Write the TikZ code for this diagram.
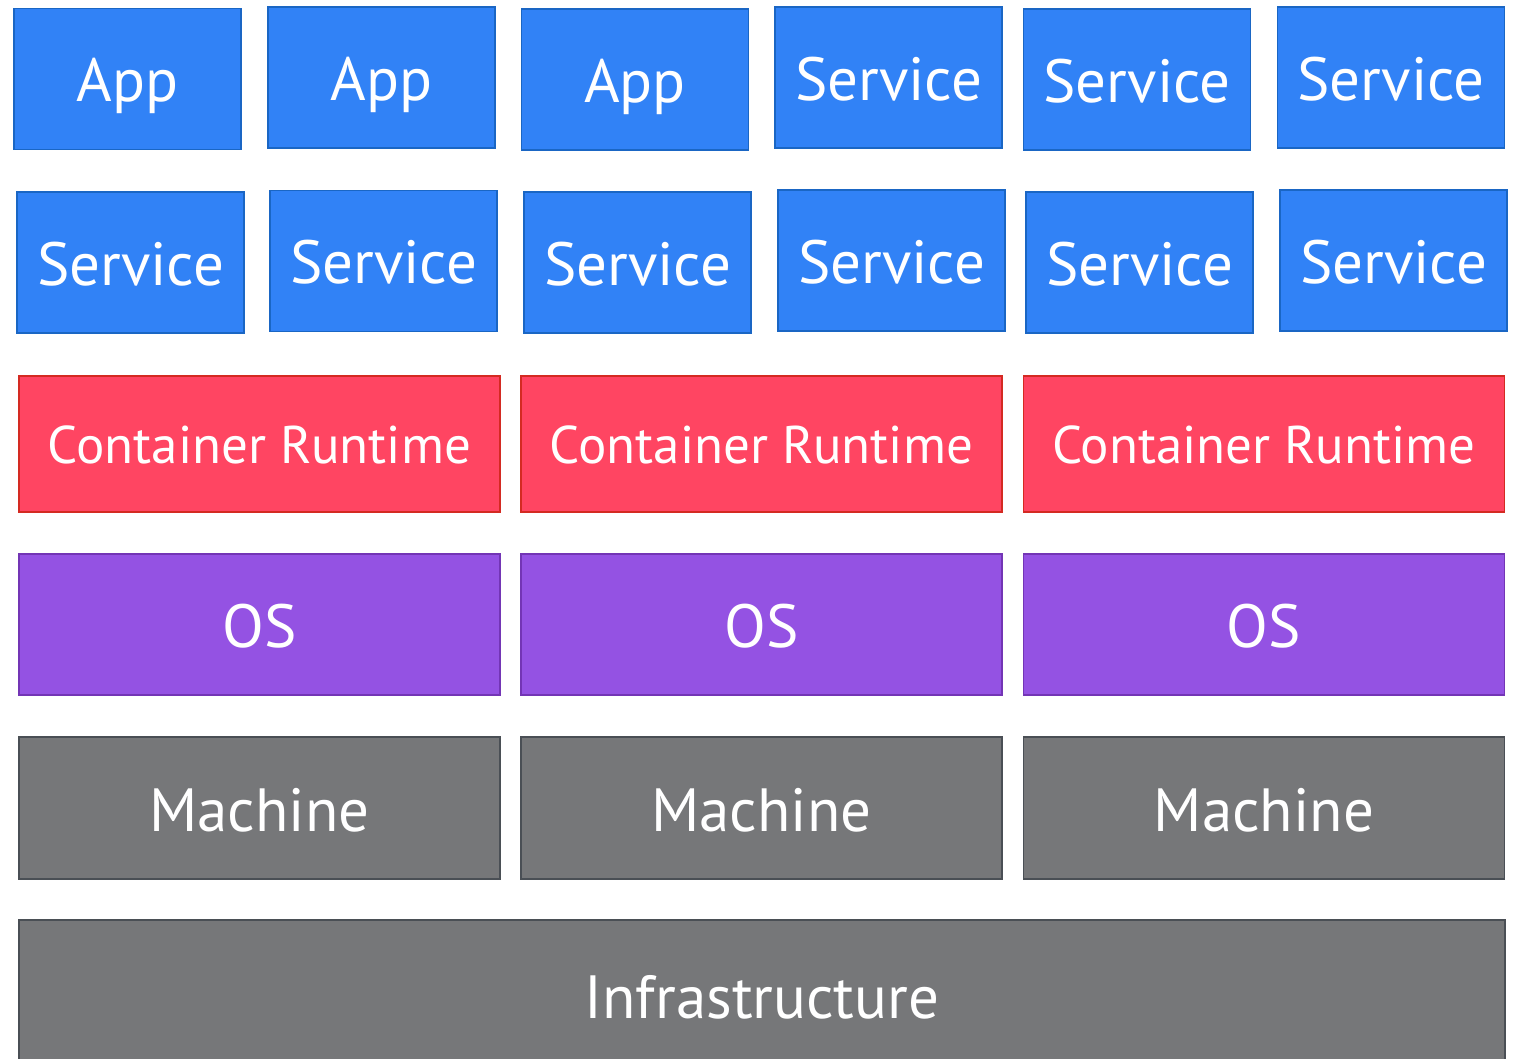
\documentclass[tikz,border=0pt]{standalone}
\usepackage{fontspec}
\setmainfont{PT Sans}
\usetikzlibrary{positioning}

\definecolor{appblue}{HTML}{3182F6}
\definecolor{appline}{HTML}{1A66C4}
\definecolor{rtred}{HTML}{FF4562}
\definecolor{rtline}{HTML}{D42A22}
\definecolor{ospurple}{HTML}{9452E3}
\definecolor{osline}{HTML}{7335B5}
\definecolor{hwgray}{HTML}{767779}
\definecolor{hwline}{HTML}{4A4F55}

\begin{document}
\begin{tikzpicture}[x=1pt,y=-1pt,
  layer/.style={draw,line width=1.5pt,inner sep=0pt,text=white,
    text height=46pt,text depth=0pt,font=\fontsize{61}{68}\selectfont},
  svcbox/.style={layer,fill=appblue,draw=appline,minimum width=227pt,minimum height=141pt},
  rtbox/.style={layer,fill=rtred,draw=rtline,minimum width=481pt,minimum height=136pt,
    text height=40pt,font=\fontsize{53}{60}\selectfont},
  osbox/.style={layer,fill=ospurple,draw=osline,minimum width=481pt,minimum height=141pt},
  hwbox/.style={layer,fill=hwgray,draw=hwline,minimum width=481pt,minimum height=142pt}]
  \useasboundingbox (0,0) rectangle (1519,1059);

  % top row: apps and services
  \foreach \x/\y/\t [count=\i] in {127.5/79/App,381.5/77.5/App,635/79.5/App,
      888.5/77.5/Service,1137/79.5/Service,1391/77.5/Service}
    \node[svcbox] (top\i) at (\x,\y) {\t};

  % second row: services
  \foreach \x/\y [count=\i] in {130.5/262.5,383.5/261,637.5/262.5,
      891.5/260.5,1139.5/262.5,1393.5/260.5}
    \node[svcbox] (svc\i) at (\x,\y) {Service};

  % one stack per machine
  \foreach \x [count=\i] in {259.5,761.5,1264} {
    \node[rtbox] (rt\i) at (\x,444) {Container Runtime};
    \node[osbox] (os\i) at (\x,624.5) {OS};
    \node[hwbox] (mach\i) at (\x,808) {Machine};
  }

  \node[layer,fill=hwgray,draw=hwline,minimum width=1486pt,minimum height=150pt]
    (infra) at (762,995) {Infrastructure};
\end{tikzpicture}
\end{document}
